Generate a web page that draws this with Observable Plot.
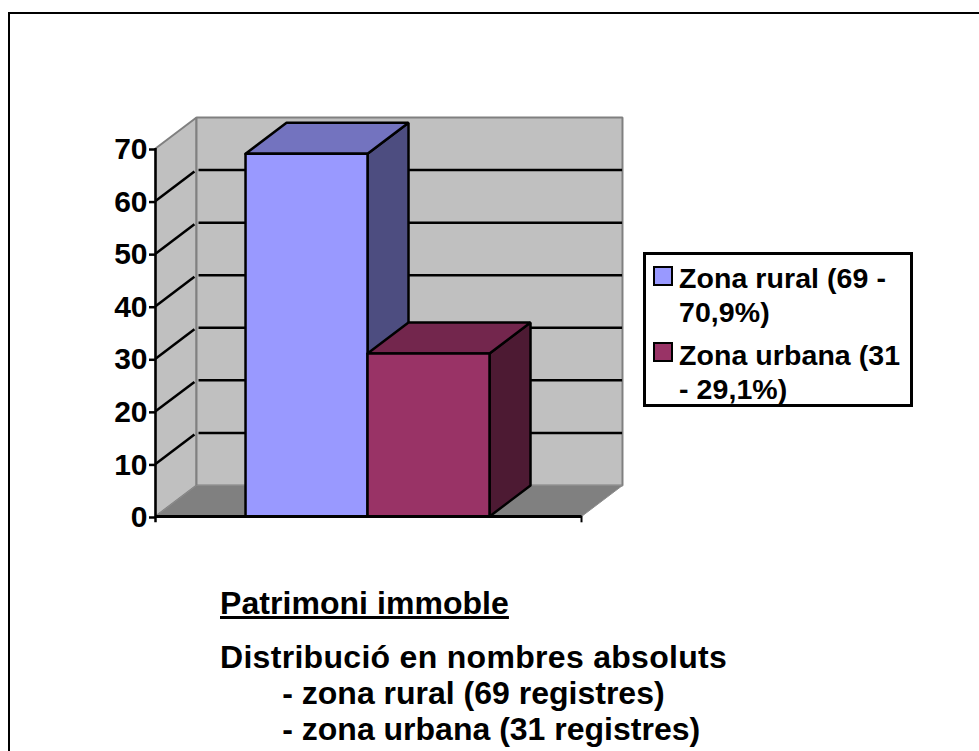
<!DOCTYPE html>
<html>
<head>
<meta charset="utf-8">
<script src="https://cdn.jsdelivr.net/npm/d3@7"></script>
<script src="https://cdn.jsdelivr.net/npm/@observablehq/plot@0.6"></script>
<style>
html,body{margin:0;padding:0;background:#fff;overflow:hidden}
#page{position:relative;width:979px;height:751px;font-family:"Liberation Sans",Arial,sans-serif;font-weight:bold;color:#000;overflow:hidden}
#frame{position:absolute;left:8px;top:12px;width:990px;height:760px;border:2px solid #000;box-sizing:border-box}
#page svg{position:absolute;left:0;top:0}
#legend{position:absolute;left:643px;top:252px;width:270px;height:155px;box-sizing:border-box;border:3px solid #000;background:#fff;font-size:28.5px;line-height:34px}
#legend .sw{position:absolute;left:7px;width:20px;height:20px;box-sizing:border-box;border:2px solid #000}
#legend .tx{position:absolute;left:33px;white-space:pre;letter-spacing:0.07px}
#caption div{position:absolute;white-space:pre;font-size:32px;line-height:36px}
</style>
</head>
<body>
<div id="page">
<div id="frame"></div>
<div id="chart"></div>
<div id="legend"></div>
<div id="caption"></div>
</div>
<script>
const categories = ["Zona rural", "Zona urbana"];
const values = [69, 31];
const frontColors = ["#9999ff", "#993366"];
const topColors = ["#7373bf", "#73264d"];
const sideColors = ["#4d4d80", "#4d1a33"];
const yTicks = [0, 10, 20, 30, 40, 50, 60, 70];
const legendLabels = [["Zona rural (69 -", "70,9%)"], ["Zona urbana (31", "- 29,1%)"]];
const captionTitle = "Patrimoni immoble";
const captionLines = ["Distribució en nombres absoluts", "       - zona rural (69 registres)", "       - zona urbana (31 registres)"];

// oblique depth, in data units of each axis
const depthX = 0.336, depthY = 5.9;
const xMin = -0.738, xMax = 2.754, yMax = 70;

const poly = (pts, fill, stroke, strokeWidth) =>
  Plot.line([...pts, pts[0]].map(([x, y]) => ({x, y})), {x: "x", y: "y", fill, stroke, strokeWidth, strokeLinejoin: "miter", curve: "linear"});
const seg = (pts, stroke, strokeWidth) =>
  Plot.line(pts.map(([x, y]) => ({x, y})), {x: "x", y: "y", stroke, strokeWidth, curve: "linear", strokeLinecap: "butt"});

const marks = [];
// side wall, back wall, floor
marks.push(poly([[xMin, 0], [xMin + depthX, depthY], [xMin + depthX, yMax + depthY], [xMin, yMax]], "#c0c0c0", "#808080", 2));
marks.push(poly([[xMin + depthX, depthY], [xMax + depthX, depthY], [xMax + depthX, yMax + depthY], [xMin + depthX, yMax + depthY]], "#c0c0c0", "#808080", 2));
marks.push(poly([[xMin, 0], [xMax, 0], [xMax + depthX, depthY], [xMin + depthX, depthY]], "#808080", "#8c8c8c", 1));
// gridlines
for (const t of yTicks.filter(t => t > 0 && t < yMax)) {
  marks.push(seg([[xMin, t], [xMin + depthX * 0.95, t + depthY * 0.95]], "#000", 2.5));
  marks.push(seg([[xMin + depthX * 1.05, t + depthY], [xMax + depthX * 0.99, t + depthY]], "#000", 2.5));
}
// bars, back to front
values.forEach((v, i) => {
  marks.push(poly([[i + 1, 0], [i + 1 + depthX, depthY], [i + 1 + depthX, v + depthY], [i + 1, v]], sideColors[i], "#000", 2.5));
  marks.push(poly([[i, v], [i + 1, v], [i + 1 + depthX, v + depthY], [i + depthX, v + depthY]], topColors[i], "#000", 2.5));
  marks.push(poly([[i, 0], [i + 1, 0], [i + 1, v], [i, v]], frontColors[i], "#000", 2.5));
});
// axes
marks.push(seg([[xMin, 0], [xMax, 0]], "#000", 3));
marks.push(Plot.ruleX([xMax], {y1: 0, y2: -1.2, stroke: "#000", strokeWidth: 2}));
marks.push(Plot.axisY({ticks: yTicks, tickSize: 6, tickPadding: 2, strokeWidth: 2.5, fontSize: 30, fontWeight: "bold", stroke: "#000", fill: "#000", label: null, dy: 1, tickFormat: d => String(d)}));
marks.push(Plot.ruleX([xMin], {y1: -1.2, y2: yMax, stroke: "#000", strokeWidth: 2.5}));

const chart = Plot.plot({
  width: 979, height: 751,
  marginLeft: 155, marginRight: 398, marginTop: 148, marginBottom: 235,
  style: {background: "transparent", fontFamily: '"Liberation Sans",Arial,sans-serif', overflow: "visible"},
  x: {type: "linear", domain: [xMin, xMax], axis: null},
  y: {type: "linear", domain: [0, yMax], axis: null},
  marks
});
document.getElementById("chart").append(chart);

// legend
const legend = document.getElementById("legend");
const swTops = [11, 87], txTops = [6, 83];
categories.forEach((c, i) => {
  const sw = document.createElement("div");
  sw.className = "sw"; sw.title = c; sw.style.top = swTops[i] + "px"; sw.style.background = frontColors[i];
  legend.append(sw);
  const tx = document.createElement("div");
  tx.className = "tx"; tx.style.top = txTops[i] + "px"; tx.textContent = legendLabels[i].join("\n");
  legend.append(tx);
});

// caption
const cap = document.getElementById("caption");
const add = (t, top, u, ls) => {
  const d = document.createElement("div");
  d.textContent = t; d.style.left = "220px"; d.style.top = top + "px";
  if (u) d.style.textDecoration = "underline";
  if (ls) d.style.letterSpacing = ls;
  cap.append(d);
};
add(captionTitle, 585, true, "0.05px");
captionLines.forEach((t, i) => add(t, 639 + i * 36, false, i === 0 ? "0.3px" : "0"));
</script>
</body>
</html>
